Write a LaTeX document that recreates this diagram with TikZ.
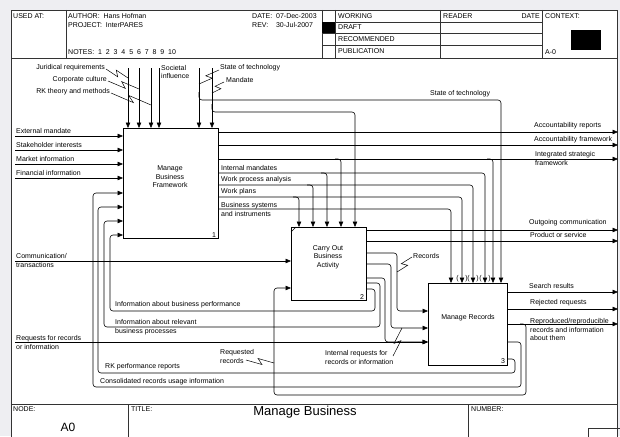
\documentclass[tikz,border=0pt]{standalone}
\usepackage{fontspec}
\setmainfont{Liberation Sans}
\usetikzlibrary{arrows.meta,calc}
\definecolor{bggray}{RGB}{238,238,242}
\newcommand\lblf{\fontsize{7}{8.5}\selectfont}
\newcommand\titf{\fontsize{13}{15}\selectfont}
\newcommand\squig[2]{\draw[leader] (#1) -- ($(#1)!0.58!(#2)!2.8pt!-90:(#2)$) -- ($(#1)!0.42!(#2)!2.8pt!90:(#2)$) -- (#2);}
\begin{document}
\begin{tikzpicture}[x=1pt,y=-1pt,
  lbl/.style={font=\lblf, inner sep=0pt, anchor=west, align=left},
  fbox/.style={draw, line width=1.2pt, inner sep=0pt, anchor=north west},
  boxtext/.style={font=\lblf, align=center, inner sep=0pt},
  flow/.style={line width=0.6pt, rounded corners=3pt},
  arr/.style={flow, -{Triangle[length=5.5pt,width=4.5pt]}},
  frm/.style={line width=0.6pt, draw=black!80},
  leader/.style={line width=0.5pt}]
\useasboundingbox (0,0) rectangle (620,436);
\clip (0,0) rectangle (620,436);
\fill[bggray] (0,0) rectangle (620,436);
\fill[white] (11,10) rectangle (617,440);
% ---------- frame and header ----------
\draw[frm] (11,440) -- (11,10) -- (617,10) -- (617,440);
\draw[frm] (11,58) -- (617,58);
\draw[frm] (66,10) -- (66,58);
\draw[frm] (322,10) -- (322,58);
\draw[frm] (335,10) -- (335,58);
\draw[frm] (440,10) -- (440,58);
\draw[frm] (542,10) -- (542,58);
\draw[frm] (322,22) -- (542,22);
\draw[frm] (322,33) -- (542,33);
\draw[frm] (322,45) -- (542,45);
\fill[black] (322,22) rectangle (335,33);
\fill[black] (571,30) rectangle (601,50);
\node[lbl] (usedat) at (13,16) {USED AT:};
\node[lbl] (author) at (68,16) {AUTHOR:\ \ Hans Hofman};
\node[lbl] (project) at (68,25) {PROJECT:\ \ InterPARES};
\node[lbl] (notes) at (68,52) {NOTES:\ \ 1\ \ 2\ \ 3\ \ 4\ \ 5\ \ 6\ \ 7\ \ 8\ \ 9\ \ 10};
\node[lbl] (date) at (252,16) {DATE:\ \ 07-Dec-2003};
\node[lbl] (rev) at (252,25) {REV:\ \ \ \ 30-Jul-2007};
\node[lbl] (working) at (338,16) {WORKING};
\node[lbl] (draft) at (338,27.5) {DRAFT};
\node[lbl] (recom) at (338,39) {RECOMMENDED};
\node[lbl] (publ) at (338,51) {PUBLICATION};
\node[lbl] (reader) at (443,16) {READER};
\node[lbl, anchor=east] (rdate) at (540,16) {DATE};
\node[lbl] (context) at (545,16) {CONTEXT:};
\node[lbl] (a0ctx) at (545,52) {A-0};
% ---------- footer ----------
\draw[frm] (11,404) -- (617,404);
\draw[frm] (128,404) -- (128,440);
\draw[frm] (468,404) -- (468,440);
\draw[frm] (588,428) rectangle (625,445);
\node[lbl] (nodelbl) at (13,409) {NODE:};
\node[font=\fontsize{12}{14}\selectfont, inner sep=0pt] (nodeval) at (68,427) {A0};
\node[lbl] (titlelbl) at (131,409) {TITLE:};
\node[font=\titf, inner sep=0pt] (title) at (305,412) {Manage Business};
\node[lbl] (numberlbl) at (471,409) {NUMBER:};
% ---------- boxes ----------
\node[fbox, minimum width=95pt, minimum height=110pt] (b1) at (123,128) {};
\node[fbox, minimum width=75pt, minimum height=73pt] (b2) at (291,227) {};
\node[fbox, minimum width=79pt, minimum height=82pt] (b3) at (428,283) {};
\node[boxtext] (t1) at (170,177) {Manage\\Business\\Framework};
\node[boxtext] (t2) at (328,257) {Carry Out\\Business\\Activity};
\node[boxtext] (t3) at (468,318) {Manage Records};
\node[lbl, anchor=south east] (n1) at ($(b1.south east)+(-3,-2)$) {1};
\node[lbl, anchor=south east] (n2) at ($(b2.south east)+(-3,-2)$) {2};
\node[lbl, anchor=south east] (n3) at ($(b3.south east)+(-3,-2)$) {3};
\draw[line width=0.5pt] ($(b2.north west)+(0,5)$) -- ($(b2.north west)+(5,0)$);
% ---------- box 1 controls ----------
\draw[arr] (128,68) -- (b1.north -| 128,0);
\draw[arr] (139,68) -- (b1.north -| 139,0);
\draw[arr] (151,68) -- (b1.north -| 151,0);
\draw[arr] (159,68) -- (b1.north -| 159,0);
\draw[arr] (199,68) -- (b1.north -| 199,0);
\draw[arr] (212,68) -- (b1.north -| 212,0);
\draw[arr] (199,92) -- (199,100) -- (501,100) -- (b3.north -| 501,0);
\draw[arr] (212,104) -- (212,112) -- (355,112) -- (b2.north -| 355,0);
\node[lbl, anchor=east] (jur) at (105,68) {Juridical requirements};
\node[lbl, anchor=east] (corp) at (107,80) {Corporate culture};
\node[lbl, anchor=east] (rkt) at (110,92) {RK theory and methods};
\node[lbl] (soc) at (161,72) {Societal\\influence};
\node[lbl] (sot) at (220,68) {State of technology};
\node[lbl] (mand) at (226,80) {Mandate};
\node[lbl] (sot2) at (430,94) {State of technology};
\squig{106,69}{128,78}
\squig{108,81}{139,89}
\squig{111,93}{151,105}
\squig{219,70}{199,84}
\squig{224,82}{212,93}
% ---------- box 1 inputs ----------
\draw[arr] (15,136) -- (b1.west |- 0,136);
\draw[arr] (15,150) -- (b1.west |- 0,150);
\draw[arr] (15,164) -- (b1.west |- 0,164);
\draw[arr] (15,178) -- (b1.west |- 0,178);
\node[lbl] (extm) at (16,131) {External mandate};
\node[lbl] (stak) at (16,145) {Stakeholder interests};
\node[lbl] (mark) at (16,159) {Market information};
\node[lbl] (fin) at (16,173) {Financial information};
% ---------- box 1 outputs ----------
\draw[arr] (b1.east |- 0,132) -- (618,132);
\draw[arr] (b1.east |- 0,145) -- (618,145);
\draw[arr] (b1.east |- 0,159) -- (618,159);
\draw[arr] (335,159) -- (341,159) -- (b2.north -| 341,0);
\draw[arr] (487,159) -- (493,159) -- (b3.north -| 493,0);
\draw[arr] (b1.east |- 0,173) -- (485,173) -- (b3.north -| 485,0);
\draw[arr] (321,173) -- (327,173) -- (b2.north -| 327,0);
\draw[arr] (b1.east |- 0,185) -- (473,185) -- (b3.north -| 473,0);
\draw[arr] (307,185) -- (313,185) -- (b2.north -| 313,0);
\draw[arr] (b1.east |- 0,197) -- (462,197) -- (b3.north -| 462,0);
\draw[arr] (293,197) -- (299,197) -- (b2.north -| 299,0);
\draw[arr] (b1.east |- 0,209) -- (451,209) -- (b3.north -| 451,0);
\node[lbl] (accr) at (534,126) {Accountability reports};
\node[lbl] (accf) at (534,140) {Accountability framework};
\node[lbl] (isf) at (535,158.5) {Integrated strategic\\framework};
\node[lbl] (intm) at (221,168) {Internal mandates};
\node[lbl] (wpa) at (221,180) {Work process analysis};
\node[lbl] (wpl) at (221,192) {Work plans};
\node[lbl] (bsi) at (221,209.5) {Business systems\\and instruments};
\foreach \px/\pl in {457.5/(,466.5/),468.5/(,477.5/),480.5/(,489.5/)}
  \node[font=\lblf, inner sep=0pt] at (\px,279) {\pl};
% ---------- feedback to box 1 ----------
\draw[arr] (b3.east |- 0,342) -- (521,342) -- (521,387) -- (93,387) -- (93,193) -- (b1.west |- 0,193);
\draw[arr] (b3.east |- 0,359) -- (515,359) -- (515,373) -- (98,373) -- (98,207) -- (b1.west |- 0,207);
\draw[arr] (b2.east |- 0,283) -- (380,283) -- (380,327) -- (104,327) -- (104,221) -- (b1.west |- 0,221);
\draw[arr] (b2.east |- 0,289) -- (375,289) -- (375,311) -- (110,311) -- (110,235) -- (b1.west |- 0,235);
\node[lbl] (crui) at (100,382) {Consolidated records usage information};
\node[lbl] (rkpr) at (105,367) {RK performance reports};
\node[lbl] (iarb) at (115,327) {Information about relevant\\business processes};
\node[lbl] (iabp) at (115,305) {Information about business performance};
% ---------- box 2 ----------
\draw[arr] (15,261) -- (b2.west |- 0,261);
\node[lbl] (comm) at (16,260.5) {Communication/\\transactions};
\draw[arr] (b2.east |- 0,230) -- (618,230);
\draw[arr] (b2.east |- 0,241) -- (618,241);
\node[lbl] (outc) at (529,223) {Outgoing communication};
\node[lbl] (prod) at (530,235) {Product or service};
\draw[arr] (b2.east |- 0,253) -- (397,253) -- (397,311) -- (b3.west |- 0,311);
\draw[arr] (b2.east |- 0,264) -- (391,264) -- (391,328) -- (b3.west |- 0,328);
\draw[arr] (b2.east |- 0,278) -- (385,278) -- (385,342) -- (b3.west |- 0,342);
\draw[arr] (15,342) -- (b3.west |- 0,342);
\node[lbl] (reqr) at (16,342.5) {Requests for records\\or information};
\node[lbl] (recs) at (413,256) {Records};
\squig{412,257}{397,272}
\node[lbl] (intr) at (325,357.5) {Internal requests for\\records or information};
\squig{393,356}{402,328}
% ---------- box 3 outputs ----------
\draw[arr] (b3.east |- 0,292) -- (618,292);
\draw[arr] (b3.east |- 0,309) -- (618,309);
\draw[arr] (b3.east |- 0,324) -- (618,324);
\draw[arr] (520,324) -- (526,324) -- (526,395) -- (274,395) -- (274,288) -- (b2.west |- 0,288);
\node[lbl] (srch) at (529,286) {Search results};
\node[lbl] (rejr) at (530,303) {Rejected requests};
\node[lbl] (repr) at (530,329.5) {Reproduced/reproducible\\records and information\\about them};
\node[lbl] (rqrec) at (220,356.5) {Requested\\records};
\squig{246,360}{274,363}
\end{tikzpicture}
\end{document}
